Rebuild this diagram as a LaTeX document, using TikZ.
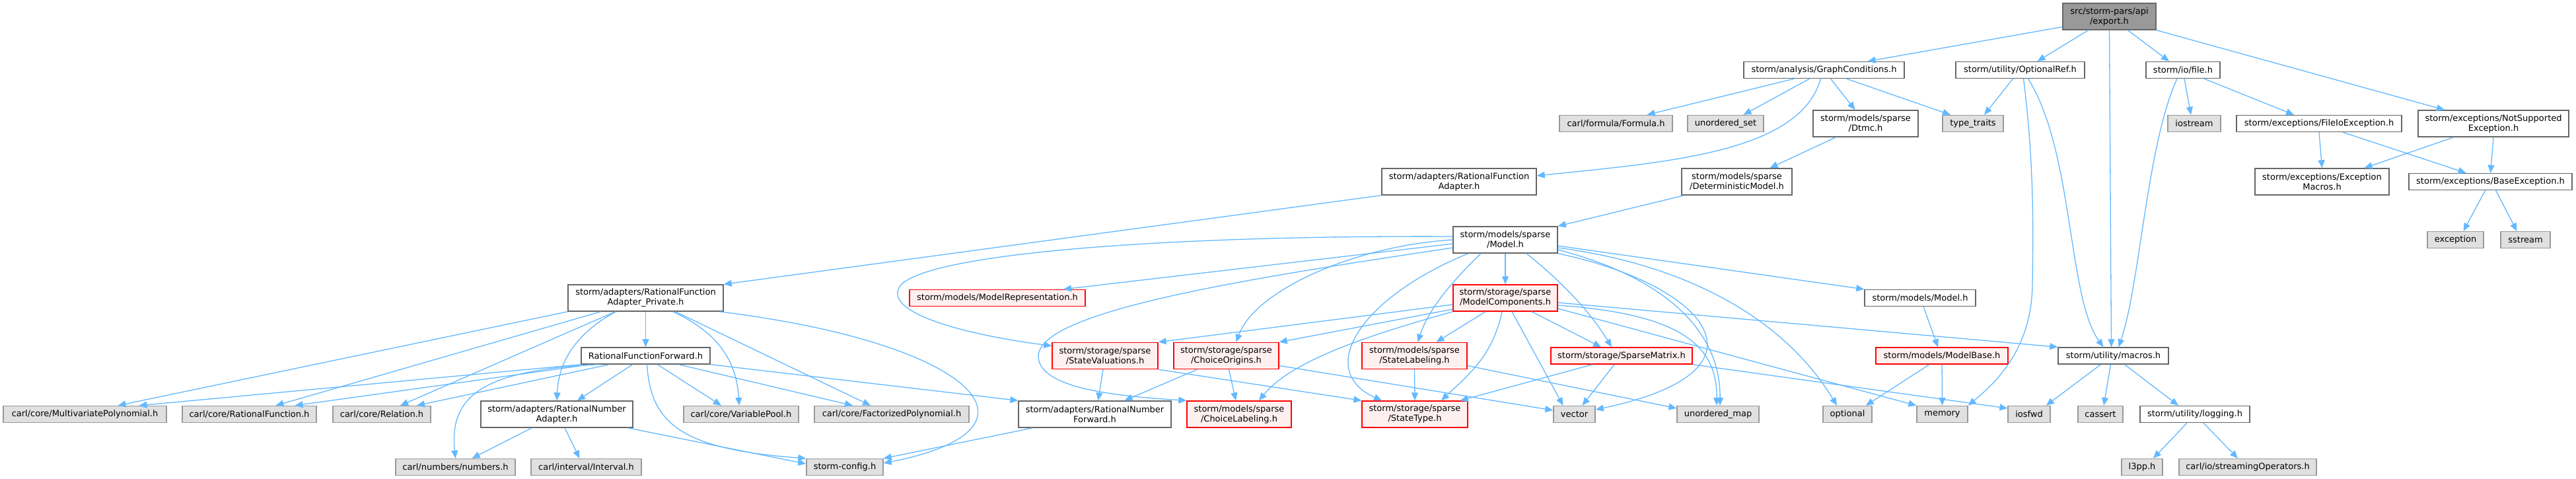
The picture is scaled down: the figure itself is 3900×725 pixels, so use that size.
\documentclass[tikz,border=0pt]{standalone}
\usepackage{fontspec}
\setsansfont{DejaVu Sans}
\usepackage{xcolor}
\definecolor{dxEdge}{RGB}{99, 184, 255}
\definecolor{dxBorder}{RGB}{102, 102, 102}
\definecolor{dxExtFill}{RGB}{224, 224, 224}
\definecolor{dxExtBorder}{RGB}{153, 153, 153}
\definecolor{dxRootFill}{RGB}{153, 153, 153}
\definecolor{dxTruncFill}{RGB}{255, 240, 240}
\definecolor{dxTruncBorder}{RGB}{255, 0, 0}
\usepackage{tikz}
\usetikzlibrary{
    arrows.meta,
    calc
}

\begin{document}
\begin{tikzpicture}[
    x=1pt, y=-1pt,
    fileBox/.style={
        rectangle, draw=dxBorder, line width=1.4pt, fill=white,
        font=\sffamily\fontsize{13}{15}\selectfont, align=center,
        inner xsep=2pt, inner ysep=0pt, minimum height=25pt
    },
    extBox/.style={fileBox, draw=dxExtBorder, fill=dxExtFill},
    truncBox/.style={fileBox, draw=dxTruncBorder, fill=dxTruncFill},
    rootBox/.style={fileBox, draw=dxBorder, fill=dxRootFill},
    tallBox/.style={minimum height=40pt},
    inclArrow/.style={
        -{Triangle[length=12pt, width=10pt]}, line width=1.3pt, draw=dxEdge
    }
]
    \useasboundingbox (0,0) rectangle (3900,725);

    % Root file
    \node[rootBox, tallBox, minimum width=141pt] (export) at (3193.5,25) {src/storm-pars/api\\/export.h};

    % Direct includes
    \node[fileBox, minimum width=243pt] (graphCond) at (2761.5,106) {storm/analysis/GraphConditions.h};
    \node[fileBox, minimum width=195pt] (optRef) at (3058.5,106) {storm/utility/OptionalRef.h};
    \node[fileBox, minimum width=112pt] (ioFile) at (3305,106) {storm/io/file.h};

    \node[extBox, minimum width=171pt] (formula) at (2446.5,187) {carl/formula/Formula.h};
    \node[extBox, minimum width=115pt] (unordSet) at (2612.5,187) {unordered\_set};
    \node[fileBox, tallBox, minimum width=159pt] (dtmc) at (2824.5,187) {storm/models/sparse\\/Dtmc.h};
    \node[extBox, minimum width=92pt] (typeTraits) at (2987,187) {type\_traits};
    \node[extBox, minimum width=80pt] (iostream) at (3322,187) {iostream};
    \node[fileBox, minimum width=250pt] (fileIoExc) at (3511,187) {storm/exceptions/FileIoException.h};
    \node[fileBox, tallBox, minimum width=228pt] (notSupp) at (3775,187) {storm/exceptions/NotSupported\\Exception.h};

    \node[fileBox, tallBox, minimum width=234pt] (rfAdapter) at (2209,275) {storm/adapters/RationalFunction\\Adapter.h};
    \node[fileBox, tallBox, minimum width=167pt] (detModel) at (2629.5,275) {storm/models/sparse\\/DeterministicModel.h};
    \node[fileBox, tallBox, minimum width=203pt] (excMacros) at (3515.5,275) {storm/exceptions/Exception\\Macros.h};
    \node[fileBox, minimum width=247pt] (baseExc) at (3770.5,275) {storm/exceptions/BaseException.h};

    \node[fileBox, tallBox, minimum width=158pt] (sparseModel) at (2279,363) {storm/models/sparse\\/Model.h};
    \node[extBox, minimum width=85pt] (exception) at (3717.5,363) {exception};
    \node[extBox, minimum width=75pt] (sstream) at (3823.5,363) {sstream};

    % Model layer
    \node[fileBox, tallBox, minimum width=235pt] (rfaPrivate) at (977.5,451) {storm/adapters/RationalFunction\\Adapter\_Private.h};
    \node[truncBox, minimum width=266pt] (modelRepr) at (1510,451) {storm/models/ModelRepresentation.h};
    \node[truncBox, tallBox, minimum width=158pt] (modelComp) at (2279,451) {storm/storage/sparse\\/ModelComponents.h};
    \node[fileBox, minimum width=168pt] (modelsModel) at (2907,451) {storm/models/Model.h};

    \node[fileBox, minimum width=195pt] (rfForward) at (977.5,538.5) {RationalFunctionForward.h};
    \node[truncBox, tallBox, minimum width=160pt] (stateVal) at (1673,538.5) {storm/storage/sparse\\/StateValuations.h};
    \node[truncBox, tallBox, minimum width=159pt] (choiceOrig) at (1856.5,538.5) {storm/storage/sparse\\/ChoiceOrigins.h};
    \node[truncBox, tallBox, minimum width=159pt] (stateLab) at (2141.5,538.5) {storm/models/sparse\\/StateLabeling.h};
    \node[truncBox, minimum width=214pt] (sparseMat) at (2455,538.5) {storm/storage/SparseMatrix.h};
    \node[truncBox, minimum width=200pt] (modelBase) at (2940,538.5) {storm/models/ModelBase.h};
    \node[fileBox, minimum width=167pt] (macros) at (3199.5,538.5) {storm/utility/macros.h};

    % Leaf headers
    \node[extBox, minimum width=247pt] (multiPoly) at (128.5,627) {carl/core/MultivariatePolynomial.h};
    \node[extBox, minimum width=203pt] (carlRatFun) at (377.5,627) {carl/core/RationalFunction.h};
    \node[extBox, minimum width=148pt] (relation) at (578,627) {carl/core/Relation.h};
    \node[fileBox, tallBox, minimum width=230pt] (rnAdapter) at (843,627) {storm/adapters/RationalNumber\\Adapter.h};
    \node[extBox, minimum width=174pt] (varPool) at (1122,627) {carl/core/VariablePool.h};
    \node[extBox, minimum width=234pt] (factPoly) at (1350,627) {carl/core/FactorizedPolynomial.h};
    \node[fileBox, tallBox, minimum width=231pt] (rnForward) at (1657.5,627) {storm/adapters/RationalNumber\\Forward.h};
    \node[truncBox, tallBox, minimum width=158pt] (choiceLab) at (1876,627) {storm/models/sparse\\/ChoiceLabeling.h};
    \node[truncBox, tallBox, minimum width=160pt] (stateType) at (2142,627) {storm/storage/sparse\\/StateType.h};
    \node[extBox, minimum width=63pt] (vector) at (2383.5,627) {vector};
    \node[extBox, minimum width=124pt] (unordMap) at (2601,627) {unordered\_map};
    \node[extBox, minimum width=74pt] (optional) at (2797,627) {optional};
    \node[extBox, minimum width=77pt] (memory) at (2940.5,627) {memory};
    \node[extBox, minimum width=64pt] (iosfwd) at (3072,627) {iosfwd};
    \node[extBox, minimum width=68pt] (cassert) at (3180,627) {cassert};
    \node[fileBox, minimum width=166pt] (logging) at (3323,627) {storm/utility/logging.h};

    \node[extBox, minimum width=181pt] (numbers) at (689.5,707) {carl/numbers/numbers.h};
    \node[extBox, minimum width=167pt] (interval) at (887.5,707) {carl/interval/Interval.h};
    \node[extBox, minimum width=116pt] (stormConfig) at (1279,707) {storm-config.h};
    \node[extBox, minimum width=62pt] (l3pp) at (3243,707) {l3pp.h};
    \node[extBox, minimum width=208pt] (streamOps) at (3403,707) {carl/io/streamingOperators.h};

    % Includes of export.h
    \draw[inclArrow] ([yshift=5pt]export.south west) -- ([xshift=66pt]graphCond.north);
    \draw[inclArrow] ([xshift=-32pt]export.south) -- ([xshift=26pt]optRef.north);
    \draw[inclArrow] (export.south) -- ([xshift=-3pt]macros.north);
    \draw[inclArrow] ([xshift=28pt]export.south) -- ([xshift=-21pt]ioFile.north);
    \draw[inclArrow] (export.south east) -- ([xshift=-74pt]notSupp.north);

    % GraphConditions, OptionalRef, file
    \draw[inclArrow] ([xshift=-45pt]graphCond.south) -- ([xshift=47pt]formula.north);
    \draw[inclArrow] ([xshift=-22pt]graphCond.south) -- ([xshift=27pt]unordSet.north);
    \draw[inclArrow] ([xshift=-5pt]graphCond.south) .. controls (2725,230) and (2530,245) .. ([yshift=9pt]rfAdapter.east);
    \draw[inclArrow] ([xshift=10pt]graphCond.south) -- ([xshift=-16pt]dtmc.north);
    \draw[inclArrow] ([xshift=34pt]graphCond.south) -- ([xshift=-34pt]typeTraits.north);
    \draw[inclArrow] ([xshift=-11pt]optRef.south) -- ([xshift=17pt]typeTraits.north);
    \draw[inclArrow] ([xshift=12pt]optRef.south) .. controls (3140,230) and (3130,450) .. ([xshift=-15pt]macros.north);
    \draw[inclArrow] ([xshift=5pt]optRef.south) .. controls (3080,250) and (3078,350) .. (3077,430)
        .. controls (3076,530) and (3020,580) .. (memory.north east);
    \draw[inclArrow] ([xshift=2pt]ioFile.south) -- ([xshift=-5pt]iostream.north);
    \draw[inclArrow] ([xshift=32pt]ioFile.south) -- ([xshift=-38pt]fileIoExc.north);
    \draw[inclArrow] ([xshift=-9pt]ioFile.south) .. controls (3250,220) and (3240,430) .. ([xshift=8pt]macros.north);

    % Exceptions
    \draw[inclArrow] (fileIoExc.south) -- (excMacros.north);
    \draw[inclArrow] ([xshift=36pt]fileIoExc.south) -- ([xshift=-37pt]baseExc.north);
    \draw[inclArrow] ([xshift=-60pt]notSupp.south) -- ([xshift=64pt]excMacros.north);
    \draw[inclArrow] (notSupp.south) -- (baseExc.north);
    \draw[inclArrow] ([xshift=-8pt]baseExc.south) -- ([xshift=12pt]exception.north);
    \draw[inclArrow] ([xshift=8pt]baseExc.south) -- ([xshift=-13pt]sstream.north);

    % Dtmc chain and adapter
    \draw[inclArrow] ([xshift=-45pt]dtmc.south) -- ([xshift=50pt]detModel.north);
    \draw[inclArrow] ([xshift=-80pt]detModel.south) -- (sparseModel.north east);
    \draw[inclArrow] (rfAdapter.south west) -- (rfaPrivate.north east);

    % sparse Model.h
    \draw[inclArrow] ([yshift=5pt]sparseModel.west) .. controls (1800,356) and (1420,380) .. (1365,430)
        .. controls (1330,470) and (1450,505) .. ([yshift=15pt]stateVal.west);
    \draw[inclArrow] (sparseModel.west) .. controls (2050,372) and (1900,440) .. ([xshift=15pt]choiceOrig.north);
    \draw[inclArrow] ([yshift=-6pt]sparseModel.west) -- ([xshift=100pt]modelRepr.north);
    \draw[inclArrow] ([yshift=-12pt]sparseModel.west) .. controls (1900,420) and (1570,470) .. (1572,540)
        .. controls (1574,590) and (1700,600) .. (choiceLab.north west);
    \draw[inclArrow] (sparseModel.south) -- (modelComp.north);
    \draw[inclArrow] ([xshift=-37pt]sparseModel.south) .. controls (2215,410) and (2165,460) .. ([xshift=5pt]stateLab.north);
    \draw[inclArrow] ([xshift=-56pt]sparseModel.south) .. controls (2060,450) and (1990,560) .. ([xshift=-50pt]stateType.north);
    \draw[inclArrow] ([xshift=32pt]sparseModel.south) .. controls (2350,415) and (2400,460) .. ([xshift=-15pt]sparseMat.north);
    \draw[inclArrow] (sparseModel.south east) .. controls (2580,430) and (2700,560) .. ([yshift=7pt]vector.east);
    \draw[inclArrow] ([yshift=-15pt]sparseModel.east) .. controls (2520,420) and (2605,500) .. ([xshift=3pt]unordMap.north);
    \draw[inclArrow] ([yshift=-12pt]sparseModel.east) .. controls (2550,400) and (2700,480) .. ([xshift=-16pt]optional.north);
    \draw[inclArrow] ([yshift=-9pt]sparseModel.east) -- (modelsModel.north west);

    % ModelComponents
    \draw[inclArrow] ([yshift=-10pt]modelComp.west) -- (stateVal.north east);
    \draw[inclArrow] ([yshift=-17pt]modelComp.west) -- (choiceOrig.north east);
    \draw[inclArrow] (modelComp.south west) .. controls (2100,500) and (1960,540) .. ([xshift=30pt]choiceLab.north);
    \draw[inclArrow] ([xshift=-30pt]modelComp.south) -- ([xshift=33pt]stateLab.north);
    \draw[inclArrow] ([xshift=-5pt]modelComp.south) .. controls (2260,540) and (2220,570) .. ([xshift=40pt]stateType.north);
    \draw[inclArrow] ([xshift=10pt]modelComp.south) -- ([xshift=-17pt]vector.north);
    \draw[inclArrow] ([xshift=40pt]modelComp.south) -- ([xshift=-31pt]sparseMat.north);
    \draw[inclArrow] ([yshift=-11pt]modelComp.east) .. controls (2540,475) and (2600,520) .. ([xshift=-2pt]unordMap.north);
    \draw[inclArrow] ([yshift=-16pt]modelComp.east) -- (memory.north west);
    \draw[inclArrow] ([yshift=-7pt]modelComp.east) -- (macros.north west);

    % Storage headers
    \draw[inclArrow] ([xshift=-3pt]stateVal.south) -- ([xshift=5pt]rnForward.north);
    \draw[inclArrow] (stateVal.south east) -- (stateType.north west);
    \draw[inclArrow] ([xshift=-44pt]choiceOrig.south) -- ([xshift=45pt]rnForward.north);
    \draw[inclArrow] ([xshift=4pt]choiceOrig.south) -- ([xshift=-5pt]choiceLab.north);
    \draw[inclArrow] ([yshift=-15pt]choiceOrig.east) -- ([yshift=6pt]vector.west);
    \draw[inclArrow] (stateLab.south) -- (stateType.north);
    \draw[inclArrow] ([yshift=-15pt]stateLab.east) -- ([yshift=9pt]unordMap.west);
    \draw[inclArrow] ([xshift=-44pt]sparseMat.south) -- ([xshift=-12pt]stateType.north east);
    \draw[inclArrow] ([xshift=-11pt]sparseMat.south) -- ([xshift=12pt]vector.north);
    \draw[inclArrow] (sparseMat.south east) -- ([yshift=9pt]iosfwd.west);
    \draw[inclArrow] ([xshift=5pt]modelsModel.south) -- ([xshift=-6pt]modelBase.north);
    \draw[inclArrow] ([xshift=-19pt]modelBase.south) -- ([xshift=-10pt]optional.north east);
    \draw[inclArrow] (modelBase.south) -- (memory.north);

    % Utility
    \draw[inclArrow] ([xshift=-19pt]macros.south) -- ([xshift=-7pt]iosfwd.north east);
    \draw[inclArrow] ([xshift=-4pt]macros.south) -- ([xshift=5pt]cassert.north);
    \draw[inclArrow] ([xshift=17pt]macros.south) -- ([xshift=-25pt]logging.north);
    \draw[inclArrow] ([xshift=-12pt]logging.south) -- ([xshift=17pt]l3pp.north);
    \draw[inclArrow] ([xshift=13pt]logging.south) -- ([xshift=-15pt]streamOps.north);

    % Rational function adapters
    \draw[inclArrow] (rfaPrivate.south west) -- ([xshift=50pt]multiPoly.north);
    \draw[inclArrow] ([xshift=-68pt]rfaPrivate.south) -- ([xshift=40pt]carlRatFun.north);
    \draw[inclArrow] ([xshift=-46pt]rfaPrivate.south) -- ([xshift=28pt]relation.north);
    \draw[inclArrow] ([xshift=-45pt]rfaPrivate.south) .. controls (880,500) and (846,540) .. (rnAdapter.north);
    \draw[inclArrow] (rfaPrivate.south) -- (rfForward.north);
    \draw[inclArrow] ([xshift=41pt]rfaPrivate.south) .. controls (1080,500) and (1115,540) .. ([xshift=-3pt]varPool.north);
    \draw[inclArrow] ([xshift=45pt]rfaPrivate.south) -- ([xshift=-32pt]factPoly.north);
    \draw[inclArrow] ([xshift=112pt]rfaPrivate.south) .. controls (1480,520) and (1600,650) .. ([yshift=6pt]stormConfig.east);

    \draw[inclArrow] (rfForward.south west) -- ([xshift=82pt]multiPoly.north);
    \draw[inclArrow] ([xshift=-84pt]rfForward.south) -- ([xshift=69pt]carlRatFun.north);
    \draw[inclArrow] ([xshift=-55pt]rfForward.south) -- ([xshift=53pt]relation.north);
    \draw[inclArrow] ([xshift=-71pt]rfForward.south) .. controls (730,560) and (680,600) .. (numbers.north);
    \draw[inclArrow] ([xshift=-20pt]rfForward.south) -- ([xshift=31pt]rnAdapter.north);
    \draw[inclArrow] ([xshift=2pt]rfForward.south) .. controls (985,640) and (1030,680) .. (stormConfig.north west);
    \draw[inclArrow] ([xshift=18pt]rfForward.south) -- ([xshift=-30pt]varPool.north);
    \draw[inclArrow] ([xshift=50pt]rfForward.south) -- ([xshift=-59pt]factPoly.north);
    \draw[inclArrow] (rfForward.south east) -- (rnForward.north west);

    \draw[inclArrow] ([xshift=-38pt]rnAdapter.south) -- ([xshift=25pt]numbers.north);
    \draw[inclArrow] ([xshift=12pt]rnAdapter.south) -- ([xshift=-10pt]interval.north);
    \draw[inclArrow] ([xshift=-8pt]rnAdapter.south east) -- ([yshift=5pt]stormConfig.west);
    \draw[inclArrow] ([xshift=-94pt]rnForward.south) -- (stormConfig.north east);

\end{tikzpicture}
\end{document}
